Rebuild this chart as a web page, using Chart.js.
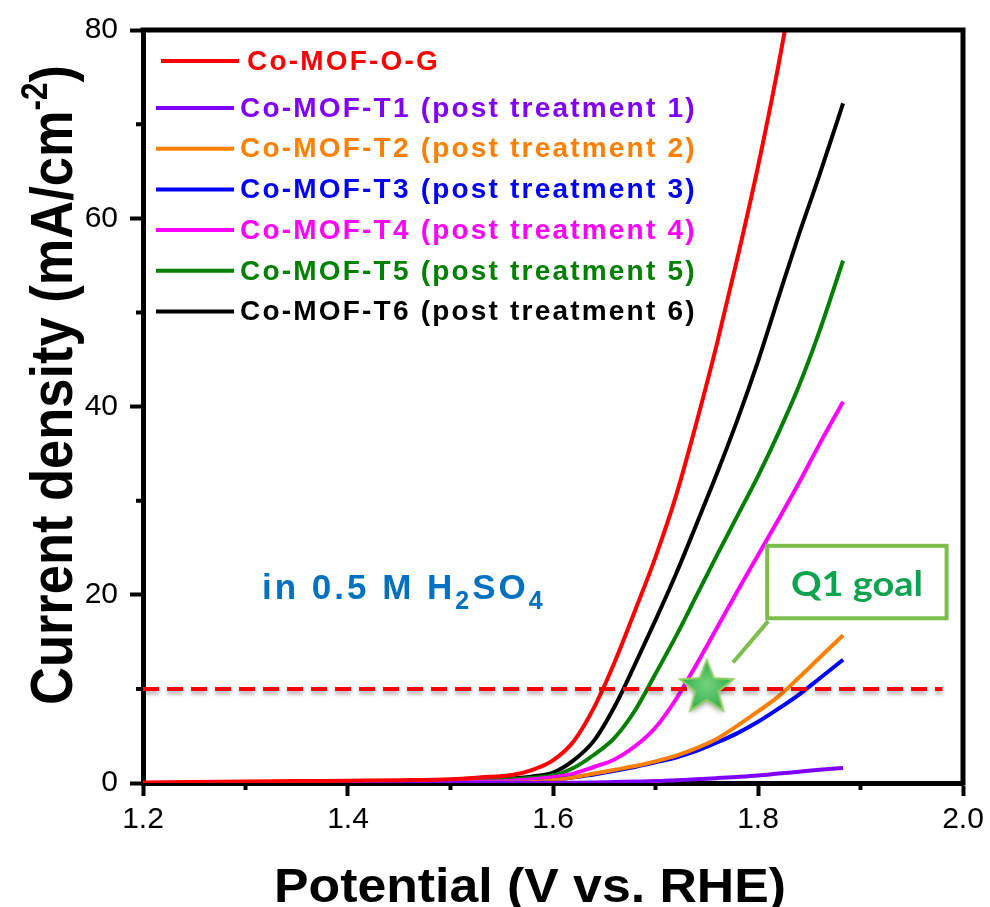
<!DOCTYPE html>
<html>
<head>
<meta charset="utf-8">
<script src="https://cdn.jsdelivr.net/npm/chart.js@4.4.1/dist/chart.umd.min.js"></script>
<style>
  html, body { margin: 0; padding: 0; background: #fff; }
  canvas { display: block; }
</style>
</head>
<body>
<canvas id="lsv" width="990" height="907"></canvas>
<script>
// LSV polarization curves
// potential in V vs. RHE, current density in mA/cm^-2
const potential = [1.20, 1.25, 1.30, 1.35, 1.40, 1.45, 1.50, 1.53, 1.56, 1.58, 1.60, 1.62, 1.64, 1.66, 1.68, 1.70, 1.72, 1.74, 1.76, 1.78, 1.80, 1.82, 1.84, 1.86, 1.883]

const coMofOG = [0.05, 0.1, 0.15, 0.2, 0.25, 0.3, 0.4, 0.6, 0.85, 1.4, 2.4, 4.4, 8.0, 12.8, 18.3, 24.0, 30.5, 38.3, 46.7, 55.8, 65.5, 76.3, 88.5, null, null]
const coMofT1 = [0, 0, 0, 0, 0, 0, 0, 0, 0, 0.01, 0.02, 0.03, 0.05, 0.1, 0.15, 0.2, 0.3, 0.4, 0.52, 0.65, 0.8, 1.0, 1.2, 1.4, 1.6]
const coMofT2 = [0, 0, 0, 0, 0, 0, 0.02, 0.03, 0.05, 0.1, 0.3, 0.6, 1.0, 1.4, 1.8, 2.3, 2.9, 3.7, 4.7, 6.1, 7.6, 9.2, 11.2, 13.3, 15.7]
const coMofT3 = [0, 0, 0, 0, 0, 0, 0.01, 0.02, 0.04, 0.1, 0.3, 0.6, 0.9, 1.3, 1.7, 2.2, 2.7, 3.4, 4.3, 5.3, 6.5, 7.9, 9.4, 11.1, 13.1]
const coMofT4 = [0, 0.01, 0.02, 0.03, 0.05, 0.07, 0.1, 0.15, 0.25, 0.4, 0.6, 1.0, 1.7, 2.5, 3.9, 5.9, 8.9, 12.6, 16.5, 20.4, 24.2, 28.0, 31.9, 36.0, 40.5]
const coMofT5 = [0, 0.02, 0.04, 0.06, 0.08, 0.12, 0.2, 0.28, 0.4, 0.55, 0.8, 1.6, 3.0, 4.8, 7.7, 11.6, 15.6, 19.9, 24.2, 28.4, 32.6, 37.2, 42.2, 48.0, 55.5]
const coMofT6 = [0, 0.02, 0.05, 0.08, 0.1, 0.15, 0.25, 0.35, 0.5, 0.7, 1.1, 2.4, 4.5, 8.1, 12.6, 17.3, 22.2, 27.5, 32.9, 38.6, 44.8, 51.6, 58.3, 64.6, 72.2]

const seriesNames = [
  "Co-MOF-O-G",
  "Co-MOF-T1 (post treatment 1)",
  "Co-MOF-T2 (post treatment 2)",
  "Co-MOF-T3 (post treatment 3)",
  "Co-MOF-T4 (post treatment 4)",
  "Co-MOF-T5 (post treatment 5)",
  "Co-MOF-T6 (post treatment 6)",
]
const seriesValues = [coMofOG, coMofT1, coMofT2, coMofT3, coMofT4, coMofT5, coMofT6]
const seriesColors = ["#ff0000", "#8000ff", "#ff8000", "#0000ff", "#ff00ff", "#008000", "#000000"]

// 10 mA/cm2 target line and the Q1 goal star
const targetPotential = [1.2, 1.98]
const targetCurrent = [10, 10]
const goalPotential = [1.75]
const goalCurrent = [10]

// axis ticks
const xTicks = [1.2, 1.4, 1.6, 1.8, 2.0]
const xMinorTicks = [1.3, 1.5, 1.7, 1.9]
const yTicks = [0, 20, 40, 60, 80]
const yMinorTicks = [10, 30, 50, 70]

const FONT = "'Liberation Sans', Arial, sans-serif"

// green star used as point image
function makeStar() {
  const c = document.createElement("canvas")
  c.width = 74
  c.height = 74
  const g = c.getContext("2d")
  const cx = 37, cy = 36, R = 28, r = 12
  g.beginPath()
  for (let i = 0; i < 10; i++) {
    const a = -Math.PI / 2 + (i * Math.PI) / 5
    const rad = i % 2 ? r : R
    g.lineTo(cx + rad * Math.cos(a), cy + rad * Math.sin(a))
  }
  g.closePath()
  g.shadowColor = "rgba(0,0,0,0.35)"
  g.shadowBlur = 5
  g.shadowOffsetY = 3
  const grad = g.createRadialGradient(cx, cy - 4, 2, cx, cy, R)
  grad.addColorStop(0, "#6fd27a")
  grad.addColorStop(1, "#2ea84a")
  g.fillStyle = grad
  g.fill()
  g.shadowColor = "transparent"
  g.lineWidth = 2
  g.strokeStyle = "#8fd163"
  g.stroke()
  return c
}

const toPoints = (xs, ys) => xs.map((x, i) => ({ x: x, y: ys[i] }))

const datasets = [
  {
    label: "goal",
    data: toPoints(goalPotential, goalCurrent),
    showLine: false,
    pointStyle: makeStar(),
    pointRadius: 12,
  },
  {
    label: "target",
    data: toPoints(targetPotential, targetCurrent),
    borderColor: "#ff0000",
    borderWidth: 4,
    borderDash: [16, 8],
    pointRadius: 0,
  },
]
seriesNames.forEach((name, i) => {
  datasets.push({
    label: name,
    data: toPoints(potential, seriesValues[i]),
    borderColor: seriesColors[i],
    borderWidth: 4,
    pointRadius: 0,
    cubicInterpolationMode: "monotone",
  })
})

// shadow under the dashed 10 mA line
const dashShadow = {
  id: "dashShadow",
  beforeDatasetDraw(chart, args) {
    if (args.index !== 1) return
    const ctx = chart.ctx
    ctx.save()
    ctx.shadowColor = "rgba(0,0,0,0.35)"
    ctx.shadowBlur = 4
    ctx.shadowOffsetY = 3
  },
  afterDatasetDraw(chart, args) {
    if (args.index === 1) chart.ctx.restore()
  },
}

// top/right frame and minor ticks
const frame = {
  id: "frame",
  afterDatasetsDraw(chart) {
    const { ctx, chartArea: a, scales } = chart
    ctx.save()
    ctx.strokeStyle = "#000"
    ctx.lineWidth = 5
    ctx.beginPath()
    ctx.moveTo(a.left - 2.5, a.top)
    ctx.lineTo(a.right, a.top)
    ctx.lineTo(a.right, a.bottom + 2.5)
    ctx.stroke()
    ctx.lineWidth = 4
    ctx.beginPath()
    xMinorTicks.forEach((v) => {
      const px = scales.x.getPixelForValue(v)
      ctx.moveTo(px, a.bottom)
      ctx.lineTo(px, a.bottom + 7)
    })
    yMinorTicks.forEach((v) => {
      const py = scales.y.getPixelForValue(v)
      ctx.moveTo(a.left, py)
      ctx.lineTo(a.left - 7, py)
    })
    ctx.stroke()
    ctx.restore()
  },
}

function fitText(ctx, text, x, y, width) {
  const w = ctx.measureText(text).width
  ctx.save()
  ctx.translate(x, y)
  ctx.scale(width / w, 1)
  ctx.fillText(text, -w / 2, 0)
  ctx.restore()
}

// legend, titles and the annotations
const annotations = {
  id: "annotations",
  afterDraw(chart) {
    const { ctx, chartArea: a, scales } = chart
    ctx.save()

    // legend
    ctx.font = `bold 28px ${FONT}`
    ctx.textBaseline = "middle"
    ctx.textAlign = "left"
    ctx.letterSpacing = "2.2px"
    seriesNames.forEach((name, i) => {
      const y = i === 0 ? a.top + 31 : a.top + 78 + (i - 1) * 40.7
      const x0 = i === 0 ? a.left + 18 : a.left + 13
      ctx.strokeStyle = seriesColors[i]
      ctx.lineWidth = 4
      ctx.beginPath()
      ctx.moveTo(x0, y)
      ctx.lineTo(x0 + 78, y)
      ctx.stroke()
      ctx.fillStyle = seriesColors[i]
      ctx.fillText(name, x0 + (i === 0 ? 86 : 84), y + 1)
    })

    // electrolyte label
    ctx.textBaseline = "alphabetic"
    ctx.fillStyle = "#0070c0"
    ctx.letterSpacing = "3px"
    let tx = a.left + 119
    const ty = a.top + 569
    const parts = [["in 0.5 M H", 0], ["2", 1], ["SO", 0], ["4", 1]]
    parts.forEach(([t, sub]) => {
      ctx.font = sub ? `bold 25px ${FONT}` : `bold 35px ${FONT}`
      ctx.fillText(t, tx, sub ? ty + 10 : ty)
      tx += ctx.measureText(t).width
    })
    ctx.letterSpacing = "0px"

    // Q1 goal callout
    const bx0 = scales.x.getPixelForValue(1.809)
    const bx1 = scales.x.getPixelForValue(1.984)
    const by0 = scales.y.getPixelForValue(25.2)
    const by1 = scales.y.getPixelForValue(17.5)
    ctx.strokeStyle = "#7cbd4c"
    ctx.lineWidth = 4
    ctx.fillStyle = "#fff"
    ctx.fillRect(bx0, by0, bx1 - bx0, by1 - by0)
    ctx.strokeRect(bx0, by0, bx1 - bx0, by1 - by0)
    ctx.beginPath()
    ctx.moveTo(scales.x.getPixelForValue(1.81), scales.y.getPixelForValue(17.2))
    ctx.lineTo(scales.x.getPixelForValue(1.7756), scales.y.getPixelForValue(12.8))
    ctx.stroke()
    ctx.fillStyle = "#0fa34f"
    ctx.font = `bold 35px Lato, ${FONT}`
    fitText(ctx, "Q1 goal", (bx0 + bx1) / 2, by0 + 50, 132)

    // axis titles
    ctx.fillStyle = "#000"
    ctx.font = `bold 48px ${FONT}`
    fitText(ctx, "Potential (V vs. RHE)", 530, 902, 512)

    // y title with superscript
    const big = `bold 60px ${FONT}`
    const small = `bold 36px ${FONT}`
    ctx.font = big
    const w1 = ctx.measureText("Current density (mA/cm").width
    const w3 = ctx.measureText(")").width
    ctx.font = small
    const w2 = ctx.measureText("-2").width
    const total = w1 + w2 + w3
    ctx.save()
    ctx.translate(72, 385)
    ctx.rotate(-Math.PI / 2)
    ctx.scale(640 / total, 1)
    let px = -total / 2
    ctx.font = big
    ctx.fillText("Current density (mA/cm", px, 0)
    px += w1
    ctx.font = small
    ctx.fillText("-2", px, -25)
    px += w2
    ctx.font = big
    ctx.fillText(")", px, 0)
    ctx.restore()

    ctx.restore()
  },
}

new Chart(document.getElementById("lsv"), {
  type: "line",
  data: { datasets },
  options: {
    responsive: false,
    animation: false,
    devicePixelRatio: 1,
    layout: { padding: { top: 28, right: 27, left: 0, bottom: 0 } },
    plugins: { legend: { display: false }, tooltip: { enabled: false } },
    scales: {
      x: {
        type: "linear",
        min: 1.2,
        max: 2.0,
        afterBuildTicks: (s) => { s.ticks = xTicks.map((v) => ({ value: v })) },
        afterFit: (s) => { s.height = 124 },
        ticks: {
          font: { family: FONT, size: 30 },
          color: "#000",
          padding: 6,
          maxRotation: 0,
          callback: (v) => Number(v).toFixed(1),
        },
        grid: { display: true, drawOnChartArea: false, tickLength: 13, tickWidth: 4, tickColor: "#000" },
        border: { display: true, width: 5, color: "#000" },
      },
      y: {
        type: "linear",
        min: 0,
        max: 80,
        afterBuildTicks: (s) => { s.ticks = yTicks.map((v) => ({ value: v })) },
        afterFit: (s) => { s.width = 143 },
        ticks: {
          font: { family: FONT, size: 30 },
          color: "#000",
          padding: 12,
        },
        grid: { display: true, drawOnChartArea: false, tickLength: 13, tickWidth: 4, tickColor: "#000" },
        border: { display: true, width: 5, color: "#000" },
      },
    },
  },
  plugins: [dashShadow, frame, annotations],
})
</script>
</body>
</html>
